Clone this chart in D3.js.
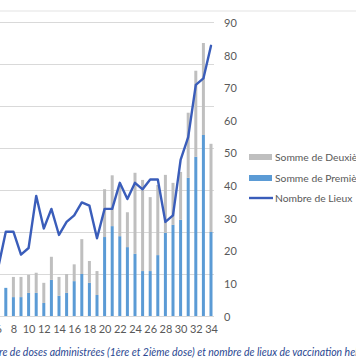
<!DOCTYPE html>
<html><head><meta charset="utf-8">
<script src="https://cdn.jsdelivr.net/npm/d3@7"></script>
<style>
html,body{margin:0;padding:0;background:#fff;overflow:hidden;}
svg{display:block;font-family:Lato,"Noto Sans",sans-serif;}
</style></head>
<body>
<svg id="c" width="356" height="364"></svg>
<script>
// ---- data ----
const weeks = d3.range(1, 35);                       // semaines 1..34
const dataWeeks = d3.range(6, 35);                   // semaines lisibles 6..34
const premiere = [600,670,450,450,550,550,310,860,480,550,830,1000,790,500,1880,2140,1900,1640,1480,1070,1070,1450,1980,2170,2290,3290,3790,4310,2000];
const deuxieme = [0,0,480,480,430,480,480,550,450,450,400,830,520,570,1140,1210,1190,830,1930,2170,1760,1670,1380,1000,1140,1550,2050,2190,2100];
const lieux    = [15,26,26,19,21,37,27,33,25,29,31,35,34,24,33,33,41,36,41,39,42,42,29,31,48,55,71,73,83];
const leftTicks = d3.range(0, 7001, 1000);
const rightTicks = d3.range(0, 91, 10);
const xTickLabels = d3.range(6, 35, 2);
const seriesNames = ["Somme de Deuxième dose","Somme de Première dose","Nombre de Lieux"];
const titleFull = "Nombre de doses administrées (1ère et 2ième dose) et nombre de lieux de vaccination hebdomadaire";

// ---- chart ----
const svg = d3.select("#c");
const x = d3.scalePoint().domain(weeks).range([-43.6, 214.8]).padding(0.5);
const yL = d3.scaleLinear().domain([0, 7000]).range([316, 22]);
const yR = d3.scaleLinear().domain([0, 90]).range([316.5, 23]);
const cBlue = "#5B9BD5", cGray = "#BFBFBF", cLine = "#3A5DBA", cText = "#595959";

// top border line
svg.append("line").attr("x1",0).attr("x2",356).attr("y1",11).attr("y2",11)
  .attr("stroke","#e3e3e3").attr("stroke-width",1.2);

// gridlines (left axis)
svg.append("g").selectAll("line").data(leftTicks).join("line")
  .attr("x1",0).attr("x2",214).attr("y1",d=>Math.round(yL(d))+0.5).attr("y2",d=>Math.round(yL(d))+0.5)
  .attr("stroke","#d9d9d9").attr("stroke-width",1);

const rows = dataWeeks.map((w,i)=>({w, p:premiere[i], d:deuxieme[i], l:lieux[i]}));
const bw = 3;
// stacked bars
svg.append("g").selectAll("rect.p").data(rows).join("rect")
  .attr("x",d=>x(d.w)-bw/2).attr("width",bw)
  .attr("y",d=>yL(d.p)).attr("height",d=>yL(0)-yL(d.p)).attr("fill",cBlue);
svg.append("g").selectAll("rect.d").data(rows).join("rect")
  .attr("x",d=>x(d.w)-bw/2).attr("width",bw)
  .attr("y",d=>yL(d.p+d.d)).attr("height",d=>yL(d.p)-yL(d.p+d.d)).attr("fill",cGray);

// line
svg.append("path").datum(rows)
  .attr("d", d3.line().x(d=>x(d.w)).y(d=>yR(d.l)))
  .attr("fill","none").attr("stroke",cLine).attr("stroke-width",2.4)
  .attr("stroke-linejoin","round").attr("stroke-linecap","round");

// right axis
const ra = svg.append("g").attr("transform","translate(214,0)")
  .call(d3.axisRight(yR).tickValues(rightTicks).tickSize(0).tickPadding(10));
ra.select(".domain").remove();
ra.selectAll("text").attr("fill",cText).style("font-size","11px").style("font-family","Lato,'Noto Sans',sans-serif");

// bottom axis
const ba = svg.append("g").attr("transform","translate(0,316)")
  .call(d3.axisBottom(x).tickValues(xTickLabels).tickSize(0).tickPadding(9));
ba.select(".domain").remove();
ba.selectAll("text").attr("fill",cText).style("font-size","11px").style("font-family","Lato,'Noto Sans',sans-serif");

// legend
const lg = svg.append("g");
const ly = [157, 178, 198];
lg.append("rect").attr("x",249).attr("y",ly[0]-3).attr("width",23).attr("height",6).attr("fill",cGray);
lg.append("rect").attr("x",249).attr("y",ly[1]-3).attr("width",23).attr("height",6).attr("fill",cBlue);
lg.append("line").attr("x1",249).attr("x2",273).attr("y1",ly[2]).attr("y2",ly[2]).attr("stroke",cLine).attr("stroke-width",2.4);
lg.selectAll("text").data(seriesNames).join("text")
  .attr("x",275).attr("y",(d,i)=>ly[i]).attr("dy","0.35em")
  .attr("fill",cText).style("font-size","10.3px").text(d=>d);

// title (cropped on both sides as in the reference)
const t = svg.append("text").attr("y",356).attr("fill","#2A4791")
  .style("font-style","italic").style("font-size","11px").text(titleFull);
// fit visible portion "re de doses ... vaccination he" into 0..356
const node = t.node();
const startIdx = 4; // after "Nomb"
const endIdx = titleFull.indexOf("vaccination h") + "vaccination he".length;
let fs = 11;
for (let k=0;k<3;k++){
  t.style("font-size", fs+"px");
  const s = node.getStartPositionOfChar(startIdx).x;
  const e = node.getEndPositionOfChar(endIdx-1).x;
  fs = fs * 356 / (e - s);
}
t.style("font-size", fs+"px");
const s0 = node.getStartPositionOfChar(startIdx).x;
t.attr("x", -s0 - 1);
</script>
</body></html>
